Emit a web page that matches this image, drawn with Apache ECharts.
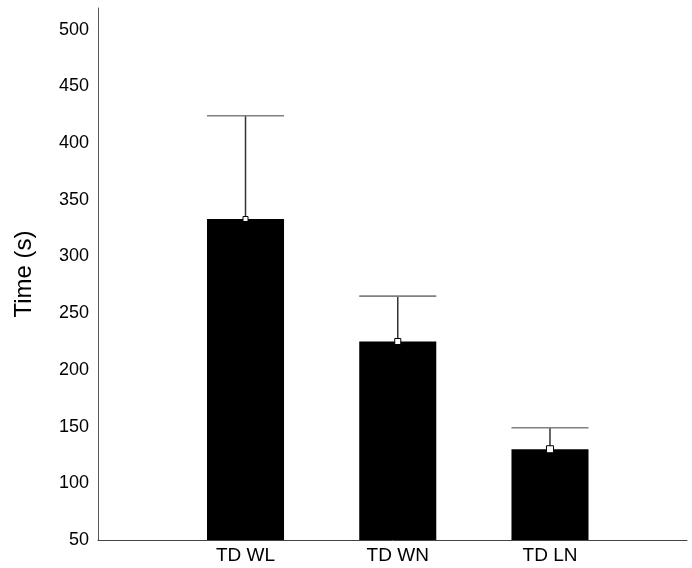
<!DOCTYPE html>
<html>
<head>
<meta charset="utf-8">
<script src="https://cdn.jsdelivr.net/npm/echarts@6/dist/echarts.min.js"></script>
<style>
html,body{margin:0;padding:0;background:#fff;}
#chart{width:692px;height:568px;}
</style>
</head>
<body>
<div id="chart"></div>
<script>
var categories = ['TD WL', 'TD WN', 'TD LN'];
var positions = [1, 2, 3];
var means = [333, 225, 130];
var upperErrors = [424, 265, 149];
var yTicks = [50, 100, 150, 200, 250, 300, 350, 400, 450, 500];
var markerSizes = [5, 6, 7];

var Y_MIN = 50, Y_MAX = 519;
var BAR_UNITS = 0.506;

var seriesData = positions.map(function (p, i) {
  return [p, means[i], upperErrors[i], markerSizes[i]];
});

function renderItem(params, api) {
  var x = api.value(0), mean = api.value(1), up = api.value(2), ms = api.value(3);
  var top = api.coord([x, mean]);
  var base = api.coord([x, Y_MIN]);
  var upPt = api.coord([x, up]);
  var w = api.size([BAR_UNITS, 0])[0];
  var cx = top[0];
  return {
    type: 'group',
    children: [
      { type: 'rect', shape: { x: cx - w / 2, y: top[1], width: w, height: base[1] - top[1] },
        style: { fill: '#000' } },
      { type: 'line', shape: { x1: cx, y1: top[1], x2: cx, y2: upPt[1] },
        style: { stroke: '#333', lineWidth: 1.5 } },
      { type: 'line', shape: { x1: cx - w / 2, y1: upPt[1], x2: cx + w / 2, y2: upPt[1] },
        style: { stroke: '#808080', lineWidth: 1.6 } },
      { type: 'rect', shape: { x: cx - ms / 2, y: top[1] - ms / 2, width: ms, height: ms },
        style: { fill: '#fff', stroke: '#000', lineWidth: 1 } }
    ]
  };
}

var chart = echarts.init(document.getElementById('chart'), null, { renderer: 'canvas' });
chart.setOption({
  animation: false,
  backgroundColor: '#fff',
  grid: { left: 98, right: 5, top: 8, bottom: 28, containLabel: false },
  xAxis: {
    type: 'value',
    min: 0.031,
    max: 3.9,
    splitLine: { show: false },
    axisTick: { show: false },
    axisLine: { show: true, onZero: false, lineStyle: { color: '#444', width: 1 } },
    axisLabel: {
      customValues: positions,
      formatter: function (v) {
        var i = positions.indexOf(Math.round(v));
        return i >= 0 ? categories[i] : '';
      },
      color: '#000',
      fontFamily: 'Liberation Sans, Arial, sans-serif',
      fontSize: 19,
      margin: 6
    }
  },
  yAxis: {
    type: 'value',
    min: Y_MIN,
    max: Y_MAX,
    interval: 50,
    name: 'Time (s)',
    nameLocation: 'middle',
    nameRotate: 90,
    nameGap: 62,
    nameTextStyle: { color: '#000', fontFamily: 'Liberation Sans, Arial, sans-serif', fontSize: 24 },
    splitLine: { show: false },
    axisTick: { show: false },
    axisLine: { show: true, lineStyle: { color: '#555', width: 1 } },
    axisLabel: {
      customValues: yTicks,
      color: '#000',
      fontFamily: 'Liberation Sans, Arial, sans-serif',
      fontSize: 18,
      margin: 9
    }
  },
  series: [{
    type: 'custom',
    renderItem: renderItem,
    encode: { x: 0, y: [1, 2] },
    data: seriesData,
    clip: false
  }]
});
</script>
</body>
</html>
